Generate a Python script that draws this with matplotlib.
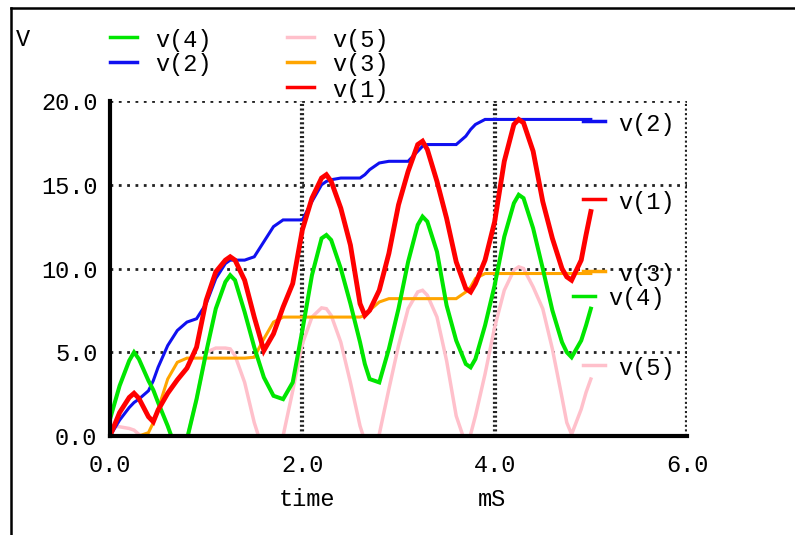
import matplotlib
matplotlib.use("Agg")
import matplotlib.pyplot as plt
from matplotlib.lines import Line2D

# datos (tiempo en mS, tension en V)
t_ms = [0, 0.1, 0.2, 0.25, 0.3, 0.4, 0.45, 0.5, 0.6, 0.7,
        0.8, 0.9, 1.0, 1.1, 1.2, 1.25, 1.3, 1.4, 1.5, 1.6,
        1.7, 1.8, 1.9, 2.0, 2.1, 2.2, 2.25, 2.3, 2.4, 2.5,
        2.6, 2.65, 2.7, 2.8, 2.9, 3.0, 3.1, 3.2, 3.25, 3.3,
        3.4, 3.5, 3.6, 3.7, 3.75, 3.8, 3.9, 4.0, 4.1, 4.2,
        4.25, 4.3, 4.4, 4.5, 4.6, 4.7, 4.75, 4.8, 4.9, 4.95, 5.0]

v1 = [0, 1.4, 2.3, 2.55, 2.25, 1.15, 0.85, 1.55, 2.55, 3.35,
      4.05, 5.3, 8.1, 9.8, 10.5, 10.7, 10.5, 9.3, 7.1, 5.1,
      6.1, 7.7, 9.1, 12.3, 14.2, 15.4, 15.6, 15.2, 13.6, 11.4,
      7.9, 7.2, 7.5, 8.7, 10.9, 13.8, 15.8, 17.4, 17.6, 17.1,
      15.2, 13.0, 10.4, 8.8, 8.6, 9.1, 10.5, 12.8, 16.4, 18.6,
      18.9, 18.7, 17.0, 14.0, 11.8, 10.0, 9.5, 9.3, 10.5, 12.0, 13.4]

v2 = [0, 0.95, 1.7, 2.0, 2.2, 2.7, 3.3, 4.1, 5.4, 6.3,
      6.8, 7.0, 7.9, 9.4, 10.3, 10.5, 10.5, 10.5, 10.7, 11.6,
      12.5, 12.9, 12.9, 12.9, 14.0, 15.0, 15.2, 15.3, 15.4, 15.4,
      15.4, 15.6, 15.9, 16.3, 16.4, 16.4, 16.4, 17.0, 17.3, 17.4,
      17.4, 17.4, 17.4, 17.9, 18.3, 18.6, 18.9, 18.9, 18.9, 18.9,
      18.9, 18.9, 18.9, 18.9, 18.9, 18.9, 18.9, 18.9, 18.9, 18.9, 18.9]

v3 = [0, 0, 0, 0, 0, 0.2, 0.8, 1.6, 3.4, 4.4,
      4.65, 4.65, 4.65, 4.65, 4.65, 4.65, 4.65, 4.65, 4.7, 5.8,
      6.8, 7.1, 7.1, 7.1, 7.1, 7.1, 7.1, 7.1, 7.1, 7.1,
      7.1, 7.2, 7.5, 8.0, 8.2, 8.2, 8.2, 8.2, 8.2, 8.2,
      8.2, 8.2, 8.2, 8.6, 8.9, 9.4, 9.7, 9.7, 9.7, 9.7,
      9.7, 9.7, 9.7, 9.7, 9.7, 9.7, 9.7, 9.7, 9.7, 9.7, 9.7]

v4 = [1.0, 3.0, 4.5, 5.0, 4.6, 3.3, 2.75, 2.0, 0.6, -1.0,
      -0.2, 2.2, 5.0, 7.6, 9.2, 9.6, 9.3, 7.4, 5.3, 3.5,
      2.4, 2.2, 3.2, 6.3, 9.6, 11.8, 12.0, 11.7, 10.0, 7.9,
      5.6, 4.3, 3.4, 3.2, 5.2, 7.6, 10.4, 12.6, 13.1, 12.8,
      11.0, 7.8, 5.7, 4.3, 4.1, 4.6, 6.6, 9.0, 11.9, 13.9,
      14.4, 14.2, 12.4, 10.0, 7.5, 5.6, 5.0, 4.7, 5.7, 6.6, 7.6]

v5 = [0.6, 0.55, 0.45, 0.35, 0.1, -0.5, -0.9, -1.2, -1.5, -1.0,
      -0.2, 2.2, 5.0, 5.25, 5.25, 5.2, 4.8, 3.2, 0.8, -1.0,
      -1.5, 0.0, 2.7, 5.5, 7.1, 7.65, 7.6, 7.2, 5.6, 3.2,
      0.6, -0.3, -0.8, 0.1, 2.8, 5.4, 7.6, 8.6, 8.7, 8.4,
      7.1, 4.5, 1.2, -0.5, 0.1, 1.2, 3.7, 6.5, 8.7, 9.9,
      10.1, 10.0, 8.9, 7.6, 5.2, 2.3, 0.8, 0.1, 1.6, 2.6, 3.4]

x_ticks = [0, 2, 4, 6]
x_tick_labels = ["0.0", "2.0", "4.0", "6.0"]
y_ticks = [0, 5, 10, 15, 20]
y_tick_labels = ["0.0", "5.0", "10.0", "15.0", "20.0"]

W, H = 795, 535
fuente = "Liberation Mono"
tam = 17

def fx(x):  # pixel -> fraccion de figura
    return x / W

def fy(y):
    return 1 - y / H

fig = plt.figure(figsize=(W / 100, H / 100), dpi=100)
ax = fig.add_axes([fx(110), fy(436), 577 / W, 335 / H])

# orden de dibujo: rosa abajo, rojo arriba
series = [
    (v5, "pink", 2.5, "v(5)"),
    (v2, "#1010f0", 2.2, "v(2)"),
    (v3, "orange", 2.2, "v(3)"),
    (v4, "#00e600", 2.9, "v(4)"),
    (v1, "red", 3.5, "v(1)"),
]
for datos, color, lw, nombre in series:
    ax.plot(t_ms, datos, color=color, lw=lw, solid_joinstyle="miter", zorder=3)

ax.set_xlim(0, 6)
ax.set_ylim(0, 20)

# rejilla punteada
for yv in y_ticks[1:]:
    ax.axhline(yv, color="#222222", lw=2.0, ls=(0, (1, 2.0)), zorder=1)
for xv in x_ticks[1:]:
    ax.axvline(xv, color="#222222", lw=3.0, ls=(0, (0.5, 0.6)), zorder=1)

for lado in ["top", "right"]:
    ax.spines[lado].set_visible(False)
ax.spines["left"].set_linewidth(3)
ax.spines["bottom"].set_linewidth(3)
ax.spines["left"].set_zorder(5)
ax.spines["bottom"].set_zorder(5)

ax.set_xticks(x_ticks)
ax.set_xticklabels(x_tick_labels, family=fuente, fontsize=tam)
ax.set_yticks(y_ticks)
ax.set_yticklabels(y_tick_labels, family=fuente, fontsize=tam)
ax.tick_params(axis="x", length=0, pad=13)
ax.tick_params(axis="y", length=0, pad=9)

# textos de ejes
fig.text(fx(307), fy(500), "time", family=fuente, fontsize=tam, ha="center", va="center")
fig.text(fx(492), fy(500), "mS", family=fuente, fontsize=tam, ha="center", va="center")
fig.text(fx(23), fy(40), "V", family=fuente, fontsize=tam, ha="center", va="center")

# leyenda de arriba (dos columnas)
leyenda = [("v(4)", "#00e600", 110, 37), ("v(2)", "#1010f0", 110, 62),
           ("v(5)", "pink", 287, 37), ("v(3)", "orange", 287, 62),
           ("v(1)", "red", 287, 87)]
for nombre, color, x0, y0 in leyenda:
    fig.add_artist(Line2D([fx(x0), fx(x0 + 27)], [fy(y0), fy(y0)], color=color, lw=2.5))
    fig.text(fx(x0 + 45), fy(y0 + 3), nombre, family=fuente, fontsize=tam, va="center")

# etiquetas a la derecha de las curvas
etiquetas = [("v(2)", "#1010f0", 583, 121), ("v(1)", "red", 583, 199),
             ("v(3)", "orange", 583, 271), ("v(4)", "#00e600", 573, 296),
             ("v(5)", "pink", 583, 365)]
for nombre, color, x0, y0 in etiquetas:
    fig.add_artist(Line2D([fx(x0), fx(x0 + 22)], [fy(y0), fy(y0)], color=color, lw=2.5, zorder=6))
    fig.text(fx(x0 + 35), fy(y0 + 3), nombre, family=fuente, fontsize=tam, va="center")

# marco de la figura
fig.add_artist(Line2D([fx(11), fx(11)], [fy(8), 0], color="black", lw=1.8))
fig.add_artist(Line2D([fx(11), 1], [fy(8), fy(8)], color="black", lw=1.8))

fig.savefig("out.png", dpi=100)
